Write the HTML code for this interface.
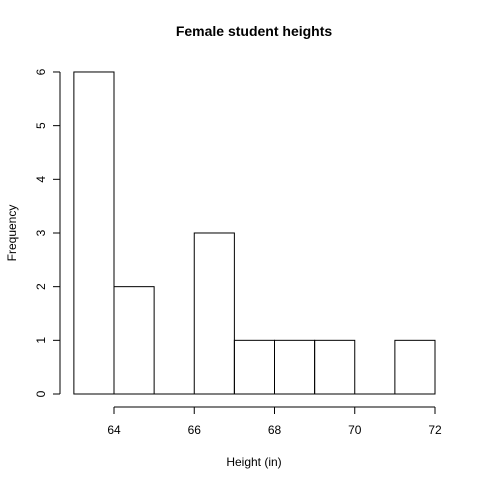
<!DOCTYPE html>
<html><head><meta charset="utf-8">
<style>
html,body{margin:0;padding:0;background:#fff;}
svg{display:block;font-family:"Liberation Sans",Arial,sans-serif;}
</style></head>
<body>
<svg id="chart" width="480" height="480" viewBox="0 0 480 480">
<text x="254" y="36" text-anchor="middle" font-size="14" font-weight="bold">Female student heights</text>
<text x="254" y="466" text-anchor="middle" font-size="12">Height (in)</text>
<text transform="translate(16,233) rotate(-90)" text-anchor="middle" font-size="12">Frequency</text>
<g id="bars"></g>
<g id="xaxis"></g>
<g id="yaxis"></g>
</svg>
<script>
const binStarts = [63,64,65,66,67,68,69,70,71];
const counts = [6,2,0,3,1,1,1,0,1];
const xTicks = [64,66,68,70,72];
const yTicks = [0,1,2,3,4,5,6];

const NS = "http://www.w3.org/2000/svg";
function xs(v){ return 114 + (v-64)*40.125; }
function ys(v){ return 394 - v*53.67; }
function mk(tag, attrs, parent){
  const e = document.createElementNS(NS, tag);
  for (const k in attrs) e.setAttribute(k, attrs[k]);
  parent.appendChild(e);
  return e;
}
const bars = document.getElementById('bars');
binStarts.forEach((b,i)=>{
  const x0 = xs(b), x1 = xs(b+1), y = ys(counts[i]);
  let r;
  if (counts[i] === 0) {
    r = mk('line', {x1:x0, x2:x1, y1:ys(0), y2:ys(0), stroke:'#000', 'stroke-width':1}, bars);
  } else {
    r = mk('rect', {x:x0, y:y, width:x1-x0, height:ys(0)-y, fill:'none', stroke:'#000', 'stroke-width':1}, bars);
  }
  
  
});
const xa = document.getElementById('xaxis');
mk('line', {x1:xs(xTicks[0]), x2:xs(xTicks[xTicks.length-1]), y1:407, y2:407, stroke:'#000'}, xa);
xTicks.forEach(t=>{
  mk('line', {x1:xs(t), x2:xs(t), y1:407, y2:414, stroke:'#000'}, xa);
  const tx = mk('text', {x:xs(t), y:434, 'text-anchor':'middle', 'font-size':12}, xa);
  tx.textContent = t;
  
  
});
const ya = document.getElementById('yaxis');
mk('line', {x1:60, x2:60, y1:ys(yTicks[0]), y2:ys(yTicks[yTicks.length-1]), stroke:'#000'}, ya);
yTicks.forEach(t=>{
  mk('line', {x1:53, x2:60, y1:ys(t), y2:ys(t), stroke:'#000'}, ya);
  const tx = mk('text', {transform:'translate(45,'+ys(t)+') rotate(-90)', 'text-anchor':'middle', 'font-size':12}, ya);
  tx.textContent = t;
  
  
});
</script>
</body></html>
